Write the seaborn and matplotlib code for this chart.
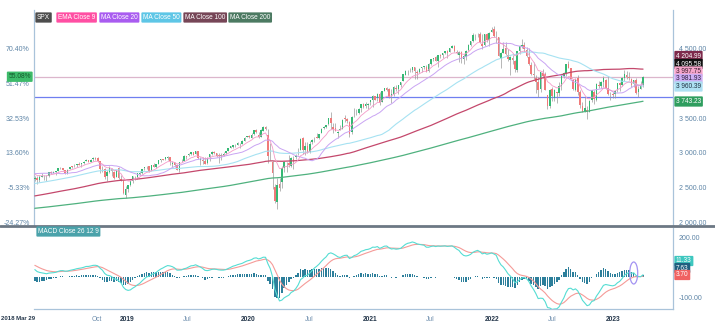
import numpy as np
import pandas as pd
import matplotlib
matplotlib.use("Agg")
import matplotlib.pyplot as plt
import matplotlib.dates as mdates
from matplotlib.patches import Ellipse
import seaborn as sns

# ---------------------------------------------------------------------------
# SPX weekly data
# ---------------------------------------------------------------------------
# weekly closes before the displayed window (May 2014 - Mar 2018),
# used only to warm up the moving averages and the MACD
close_pre = [
    1881, 1878, 1878, 1901, 1924, 1949, 1936, 1963, 1961, 1985, 1967, 1978, 1978, 1925, 1931, 1955, 1988,
    2003, 2008, 1985, 2010, 1982, 1968, 1906, 1886, 1964, 2018, 2032, 2039, 2064, 2068, 2075, 2002, 2071, 2089,
    2058, 2045, 2019, 2051, 1995, 2055, 2097, 2110, 2104, 2071, 2053, 2108, 2061, 2067, 2102, 2081, 2117, 2108,
    2116, 2122, 2126, 2107, 2092, 2094, 2110, 2102, 2077, 2077, 2127, 2079, 2104, 2078, 2092, 1971, 1989, 1921,
    1961, 1958, 1931, 1951, 2015, 2033, 2075, 2079, 2099, 2023, 2089, 2090, 2092, 2012, 2006, 2061, 2044,
    1922, 1880, 1907, 1940, 1880, 1865, 1918, 1948, 2000, 2022, 2050, 2035, 2073, 2048, 2081, 2092, 2065, 2057,
    2047, 2052, 2099, 2099, 2096, 2071, 2037, 2103, 2130, 2162, 2175, 2174, 2183, 2184, 2184, 2169, 2180, 2128,
    2139, 2165, 2168, 2153, 2133, 2141, 2126, 2085, 2164, 2182, 2213, 2192, 2260, 2258, 2263, 2239,
    2277, 2275, 2271, 2295, 2297, 2316, 2351, 2367, 2383, 2373, 2378, 2344, 2363, 2356, 2329, 2349, 2384, 2399,
    2391, 2382, 2416, 2439, 2432, 2433, 2438, 2423, 2425, 2459, 2473, 2472, 2477, 2441, 2426, 2443, 2477, 2461,
    2500, 2502, 2519, 2549, 2553, 2575, 2581, 2588, 2582, 2579, 2602, 2642, 2652, 2675, 2684, 2674,
    2743, 2786, 2810, 2873, 2762, 2620, 2732, 2747, 2691, 2786, 2752, 2588,
]

# displayed weekly candles, 2018 Mar 29 -> 2023 Mar 31
wk_open = [
    2619, 2633, 2611, 2659, 2675, 2675, 2665, 2731, 2715, 2725, 2738, 2780, 2789, 2749, 2707, 2772, 2805, 2806, 2820, 2837,
    2848, 2851, 2885, 2897, 2874, 2906, 2934, 2926, 2882, 2763, 2773, 2672, 2726, 2773, 2730, 2650, 2790, 2630, 2601, 2400,
    2476, 2535, 2596, 2665, 2658, 2703, 2707, 2780, 2798, 2810, 2740, 2823, 2797, 2848, 2893, 2907, 2910, 2929, 2940, 2841,
    2863, 2830, 2750, 2885, 2886, 2949, 2971, 2984, 3013, 2978, 3024, 2898, 2896, 2890, 2851, 2938, 2980, 3008, 2993, 2967,
    2951, 2965, 2996, 3033, 3066, 3087, 3117, 3117, 3144, 3135, 3166, 3224,
    3245, 3217, 3266, 3323, 3255, 3235, 3318, 3380, 3257, 2974, 2864, 2508, 2290, 2558, 2578, 2782, 2845, 2854, 2815, 2915,
    2948, 3046, 3038, 3213, 3041, 3094, 3018, 3155, 3225, 3224, 3219, 3288, 3356, 3380, 3418, 3509, 3369, 3352, 3285, 3326,
    3350, 3500, 3493, 3441, 3296, 3583, 3560, 3579, 3653, 3705, 3668, 3685, 3736,
    3764, 3819, 3788, 3842, 3732, 3892, 3939, 3915, 3822, 3844, 3940, 3917, 3974, 4034, 4125, 4179, 4185, 4192, 4229, 4169,
    4168, 4216, 4234, 4242, 4174, 4285, 4344, 4373, 4321, 4409, 4408, 4438, 4464, 4450, 4513, 4532, 4448, 4402, 4450, 4349,
    4385, 4478, 4553, 4610, 4688, 4689, 4706, 4564, 4548, 4713, 4620, 4733,
    4778, 4664, 4660, 4357, 4432, 4505, 4412, 4332, 4367, 4328, 4188, 4462, 4541, 4548, 4474, 4385, 4260, 4128, 4082, 4013,
    3919, 4149, 4134, 3838, 3675, 3913, 3793, 3880, 3864, 3965, 4113, 4155, 4275, 4226, 4043, 3910, 4083, 3872, 3682, 3609,
    3620, 3590, 3754, 3881, 3767, 3977, 3956, 4024, 4053, 3939, 3853, 3844,
    3853, 3903, 3999, 3979, 4073, 4120, 4091, 4067, 3993, 4055, 3869, 3914, 3982,
]
wk_high = [
    2674, 2672, 2680, 2717, 2683, 2676, 2732, 2743, 2742, 2736, 2779, 2801, 2790, 2752, 2764, 2804, 2816, 2848, 2841, 2863,
    2851, 2877, 2916, 2900, 2908, 2941, 2940, 2939, 2891, 2817, 2779, 2756, 2815, 2784, 2745, 2760, 2800, 2685, 2608, 2520,
    2538, 2605, 2675, 2670, 2716, 2738, 2776, 2795, 2814, 2812, 2831, 2860, 2836, 2894, 2910, 2917, 2940, 2955, 2931, 2885,
    2874, 2834, 2876, 2910, 2964, 2959, 2996, 3014, 3018, 3028, 3028, 2945, 2943, 2939, 2940, 2985, 3021, 3022, 3000, 2993,
    2993, 3008, 3027, 3067, 3098, 3121, 3127, 3154, 3148, 3183, 3226, 3248,
    3259, 3282, 3330, 3337, 3304, 3347, 3381, 3393, 3337, 3136, 2883, 2553, 2637, 2641, 2819, 2880, 2871, 2965, 2935, 2955,
    2980, 3068, 3211, 3233, 3155, 3154, 3165, 3198, 3236, 3280, 3272, 3352, 3388, 3399, 3509, 3588, 3425, 3429, 3320, 3397,
    3482, 3550, 3502, 3466, 3530, 3646, 3628, 3644, 3701, 3712, 3726, 3711, 3760,
    3827, 3823, 3859, 3871, 3887, 3934, 3950, 3928, 3914, 3960, 3983, 3979, 4021, 4129, 4191, 4194, 4219, 4238, 4237, 4188,
    4219, 4234, 4249, 4262, 4287, 4356, 4372, 4394, 4415, 4429, 4441, 4468, 4480, 4513, 4545, 4549, 4486, 4465, 4466, 4429,
    4475, 4559, 4608, 4718, 4714, 4718, 4743, 4705, 4713, 4731, 4740, 4808,
    4819, 4749, 4665, 4453, 4595, 4590, 4490, 4393, 4401, 4331, 4465, 4546, 4637, 4593, 4520, 4513, 4308, 4308, 4126, 4091,
    4158, 4204, 4168, 3838, 3913, 3951, 3919, 3882, 4013, 4141, 4167, 4281, 4325, 4204, 4062, 4077, 4119, 3908, 3733, 3807,
    3671, 3762, 3905, 3912, 4002, 4028, 4034, 4100, 4056, 4101, 3876, 3878,
    3907, 4003, 4016, 4095, 4195, 4176, 4158, 4072, 4048, 4079, 3965, 4039, 4110,
]
wk_low = [
    2593, 2553, 2586, 2655, 2612, 2594, 2655, 2702, 2707, 2676, 2735, 2764, 2749, 2691, 2698, 2770, 2790, 2802, 2795, 2831,
    2802, 2846, 2884, 2865, 2864, 2886, 2903, 2874, 2710, 2724, 2628, 2603, 2714, 2671, 2631, 2649, 2621, 2593, 2409, 2347,
    2444, 2525, 2570, 2613, 2632, 2682, 2704, 2760, 2772, 2722, 2742, 2800, 2785, 2848, 2873, 2898, 2900, 2900, 2825, 2801,
    2805, 2750, 2729, 2868, 2884, 2912, 2955, 2967, 2975, 2979, 2914, 2822, 2840, 2835, 2848, 2891, 2964, 2990, 2946, 2856,
    2892, 2953, 2990, 3026, 3066, 3078, 3090, 3117, 3070, 3123, 3166, 3223,
    3212, 3214, 3263, 3281, 3214, 3223, 3315, 3328, 2855, 2901, 2478, 2280, 2192, 2447, 2500, 2725, 2727, 2797, 2797, 2766,
    2915, 2969, 3038, 2984, 2966, 3000, 2999, 3127, 3152, 3209, 3200, 3284, 3347, 3363, 3401, 3349, 3293, 3313, 3209, 3324,
    3355, 3441, 3424, 3234, 3279, 3511, 3551, 3560, 3594, 3645, 3648, 3636, 3687,
    3663, 3765, 3750, 3694, 3730, 3884, 3885, 3789, 3723, 3820, 3886, 3853, 3949, 4035, 4118, 4119, 4166, 4169, 4057, 4061,
    4151, 4168, 4210, 4165, 4165, 4269, 4321, 4321, 4233, 4368, 4367, 4425, 4367, 4448, 4513, 4457, 4428, 4306, 4288, 4278,
    4329, 4460, 4537, 4595, 4630, 4672, 4585, 4495, 4532, 4600, 4531, 4733,
    4662, 4582, 4395, 4222, 4435, 4401, 4327, 4115, 4279, 4157, 4162, 4424, 4507, 4450, 4382, 4267, 4125, 4062, 3859, 3811,
    3875, 4074, 3900, 3637, 3640, 3740, 3743, 3722, 3818, 3911, 4080, 4112, 4218, 4057, 3906, 3886, 3838, 3647, 3584, 3585,
    3492, 3590, 3735, 3698, 3750, 3930, 3939, 3943, 3919, 3828, 3765, 3783,
    3795, 3877, 3885, 3967, 4037, 4061, 4048, 3944, 3943, 3847, 3809, 3937, 3952,
]
wk_close = [
    2640.87, 2604, 2656, 2670, 2670, 2663, 2728, 2712, 2721, 2735, 2779, 2780, 2755, 2718, 2760, 2801, 2802, 2819, 2840, 2833,
    2850, 2875, 2902, 2872, 2905, 2930, 2914, 2886, 2767, 2768, 2659, 2723, 2781, 2736, 2633, 2760, 2633, 2600, 2417, 2486,
    2532, 2596, 2671, 2665, 2707, 2708, 2776, 2793, 2804, 2743, 2822, 2801, 2834, 2893, 2907, 2905, 2940, 2946, 2881, 2860,
    2826, 2752, 2873, 2887, 2950, 2942, 2990, 3014, 2977, 3026, 2932, 2919, 2889, 2847, 2926, 2979, 3007, 2992, 2962, 2952,
    2970, 2986, 3023, 3067, 3093, 3120, 3110, 3141, 3146, 3169, 3221, 3240,
    3235, 3265, 3330, 3295, 3226, 3328, 3380, 3338, 2954, 2972, 2711, 2305, 2541, 2489, 2790, 2875, 2837, 2831, 2930, 2864,
    2955, 3044, 3194, 3041, 3098, 3009, 3130, 3185, 3225, 3216, 3271, 3351, 3373, 3397, 3508, 3427, 3341, 3319, 3298, 3348,
    3477, 3484, 3465, 3270, 3510, 3585, 3558, 3638, 3699, 3663, 3709, 3703, 3756,
    3825, 3768, 3841, 3714, 3887, 3934, 3907, 3811, 3842, 3943, 3913, 3975, 4020, 4129, 4185, 4180, 4181, 4233, 4174, 4156,
    4204, 4230, 4247, 4166, 4281, 4352, 4370, 4327, 4412, 4395, 4437, 4468, 4442, 4509, 4535, 4459, 4433, 4455, 4357, 4391,
    4471, 4545, 4605, 4697, 4683, 4698, 4595, 4538, 4712, 4620, 4726, 4766,
    4677, 4663, 4398, 4432, 4501, 4419, 4349, 4385, 4329, 4204, 4463, 4543, 4546, 4488, 4393, 4272, 4132, 4123, 4024, 3901,
    4158, 4109, 3901, 3675, 3912, 3825, 3899, 3863, 3962, 4130, 4145, 4280, 4228, 4058, 3924, 4067, 3873, 3693, 3586, 3640,
    3583, 3753, 3901, 3771, 3993, 3965, 4026, 4072, 3934, 3852, 3845, 3840,
    3895, 3999, 3973, 4071, 4136, 4090, 4079, 3970, 4046, 3862, 3917, 3971, 4095.58,
]

first_week = "2018-03-30"
support_level = 3805          # drawn horizontal line
price_ticks = [2000, 2500, 3000, 3500, 4000, 4500]
macd_ticks = [-100, 200]
month_ticks = [("2018-03-30", "2018 Mar 29", True), ("2018-10-01", "Oct", False),
               ("2019-01-01", "2019", True), ("2019-07-01", "Jul", False),
               ("2020-01-01", "2020", True), ("2020-07-01", "Jul", False),
               ("2021-01-01", "2021", True), ("2021-07-01", "Jul", False),
               ("2022-01-01", "2022", True), ("2022-07-01", "Jul", False),
               ("2023-01-01", "2023", True), ("2023-07-01", "", False)]
macd_mark_week = "2023-03-03"

legend_items = [("SPX", "#4d4d4d"), ("EMA Close 9", "#ff4fa3"), ("MA Close 20", "#a95cf0"),
                ("MA Close 50", "#5ec6e6"), ("MA Close 100", "#764657"), ("MA Close 200", "#4c7a62")]

# ---------------------------------------------------------------------------
# indicators
# ---------------------------------------------------------------------------
full = pd.Series(close_pre + wk_close, dtype=float)
n_pre = len(close_pre)
ema9 = full.ewm(span=9, adjust=False).mean().iloc[n_pre:].to_numpy()
ma20 = full.rolling(20).mean().iloc[n_pre:].to_numpy()
ma50 = full.rolling(50).mean().iloc[n_pre:].to_numpy()
ma100 = full.rolling(100).mean().iloc[n_pre:].to_numpy()
ma200 = full.rolling(200, min_periods=190).mean().iloc[n_pre:].to_numpy()
fast = full.ewm(span=12, adjust=False).mean()
slow = full.ewm(span=26, adjust=False).mean()
macd_full = fast - slow
signal_full = macd_full.ewm(span=9, adjust=False).mean()
macd = macd_full.iloc[n_pre:].to_numpy()
signal = signal_full.iloc[n_pre:].to_numpy()
hist = macd - signal

dates = pd.date_range(first_week, periods=len(wk_close), freq="W-FRI")
x = mdates.date2num(dates)
o = np.array(wk_open, float)
h = np.array(wk_high, float)
l = np.array(wk_low, float)
c = np.array(wk_close, float)
base = c[0]

# ---------------------------------------------------------------------------
# figure
# ---------------------------------------------------------------------------
sns.set_theme(style="white")
plt.rcParams["font.family"] = ["Liberation Sans", "DejaVu Sans"]

W, H = 715, 325
fig = plt.figure(figsize=(W / 100, H / 100), dpi=100)
fig.patch.set_facecolor("white")


def px_box(left, top, right, bottom):
    return [left / W, 1 - bottom / H, (right - left) / W, (bottom - top) / H]


ax = fig.add_axes(px_box(34, 10, 673, 225))
axm = fig.add_axes(px_box(34, 228, 673, 309), sharex=ax)

spine_col = "#a9c3da"
lab_col = "#5d84a6"
up_col, dn_col = "#35b874", "#f07a7a"

# candles
cols = np.where(c >= o, up_col, dn_col)
ax.vlines(x, np.minimum(l, np.minimum(o, c)), np.maximum(h, np.maximum(o, c)),
          colors="#9a9a9a", lw=0.5, zorder=3)
body_lo = np.minimum(o, c)
body_h = np.maximum(np.abs(c - o), 4)
ax.bar(x, body_h, bottom=body_lo, width=4.6, color=cols, linewidth=0, zorder=4)

# moving averages
for vals, col, lw in [(ma200, "#4fb17e", 0.9), (ma100, "#c4486c", 0.9), (ma50, "#a6e2f2", 0.8),
                      (ma20, "#c9a4f3", 0.7), (ema9, "#f59ac9", 0.6)]:
    sns.lineplot(x=x, y=vals, ax=ax, color=col, lw=lw, zorder=5, legend=False)

# horizontal lines: last close and support
ax.axhline(c[-1], color="#dcb6cc", lw=0.9, zorder=2)
ax.axhline(support_level, color="#6f7ff0", lw=0.9, zorder=2)

# y scaling: 500 points per ~34.7 px
px_per_pt = 0.06956
ax.set_ylim(2000 - 2.5 / px_per_pt, 2000 + 212.5 / px_per_pt)
xl0 = x[0] - 2.5
ax.set_xlim(xl0, x[0] + 1917)

ax.set_yticks(price_ticks)
ax.set_yticklabels([f"{(p / base - 1) * 100:.2f}%" for p in price_ticks])
ax.tick_params(axis="y", length=0, labelsize=5, labelcolor=lab_col, pad=3)
ax.tick_params(axis="x", length=0, labelbottom=False)
ax.grid(False)
for s in ["top", "bottom"]:
    ax.spines[s].set_visible(False)
for s in ["left", "right"]:
    ax.spines[s].set_color(spine_col)
    ax.spines[s].set_linewidth(0.9)

axr = ax.twinx()
axr.set_ylim(ax.get_ylim())
axr.set_yticks([p for p in price_ticks if p != 4000])
axr.set_yticklabels([f"{p:,.2f}".replace(",", " ") for p in price_ticks if p != 4000])
axr.tick_params(axis="y", length=0, labelsize=5, labelcolor=lab_col, pad=4)
axr.grid(False)
for s in axr.spines.values():
    s.set_visible(False)

# MACD pane
axm.bar(x, hist, width=4.2, color="#2d7f9b", linewidth=0, zorder=3)
sns.lineplot(x=x, y=signal, ax=axm, color="#f59b98", lw=0.8, zorder=4, legend=False)
sns.lineplot(x=x, y=macd, ax=axm, color="#55ddd3", lw=0.8, zorder=5, legend=False)
axm.set_ylim(-160, 245)
mx = mdates.date2num(pd.Timestamp(macd_mark_week))
axm.add_patch(Ellipse((mx, 20), 24, 110, fill=False, ec="#a393f2", lw=0.9, zorder=6))
axm.yaxis.tick_right()
axm.set_yticks(macd_ticks)
axm.set_yticklabels([f"{v:.2f}" for v in macd_ticks])
axm.tick_params(axis="y", length=0, labelsize=5, labelcolor=lab_col, pad=4)
axm.grid(False)
for s in ["top", "left"]:
    axm.spines[s].set_visible(False)
for s in ["bottom", "right"]:
    axm.spines[s].set_color(spine_col)
    axm.spines[s].set_linewidth(0.9)

tick_pos = [mdates.date2num(pd.Timestamp(d)) for d, _, _ in month_ticks]
axm.set_xticks(tick_pos)
axm.set_xticklabels([t for _, t, _ in month_ticks])
axm.tick_params(axis="x", length=3, width=0.7, color=spine_col, labelsize=4.8, pad=2)
for lab, (_, _, bold) in zip(axm.get_xticklabels(), month_ticks):
    lab.set_fontweight("bold" if bold else "normal")
    lab.set_color("#24364a" if bold else "#6f8fae")
first_lab = axm.get_xticklabels()[0]
first_lab.set_horizontalalignment("right")
first_lab.set_fontsize(4.3)
axm.set_xlim(xl0, x[0] + 1917)

# pane separator
fig.add_artist(plt.Line2D([0, 1], [1 - 226 / H, 1 - 226 / H], color="#6c7884", lw=2.0))


def tag(xp, yp, text, bg, fg="white", ha="left", size=4.7):
    fig.text(xp / W, 1 - yp / H, text, ha=ha, va="center", fontsize=size, color=fg,
             bbox=dict(boxstyle="round,pad=0.25,rounding_size=0.15", fc=bg, ec="none"))


# legend tags
xpos = [37, 58, 101, 143, 185, 230]
for xp, (name, col) in zip(xpos, legend_items):
    tag(xp, 17.5, name, col)
tag(38, 231.5, "MACD Close 26 12 9", "#4aa2aa")


def fmt(v):
    return f"{v:,.2f}".replace(",", " ")


# right-hand value tags
tag(676, 56, fmt(ma100[-1]), "#7d2a4c")
tag(676, 64, fmt(c[-1]), "#111111")
tag(676, 71.5, fmt(ema9[-1]), "#f6a6cb", fg="#3a2030")
tag(676, 79, fmt(ma20[-1]), "#cdaef3", fg="#302040")
tag(676, 86.5, fmt(ma50[-1]), "#ade0f2", fg="#203040")
tag(676, 101.5, fmt(ma200[-1]), "#2f9e5f")
tag(676, 261, f"{macd[-1]:.2f}", "#3ec7bf")
tag(676, 268, f"{hist[-1]:.2f}", "#1f5f80")
tag(676, 275, f"{signal[-1]:.2f}", "#f06262")

# last close as percent change on the left
y_last = 222.5 - (c[-1] - 2000) * px_per_pt
tag(31, y_last, f"{(c[-1] / base - 1) * 100:.2f}%", "#3dbb6a", fg="#145a2c", ha="right", size=4.8)

fig.savefig("out.png", dpi=100, facecolor="white")
